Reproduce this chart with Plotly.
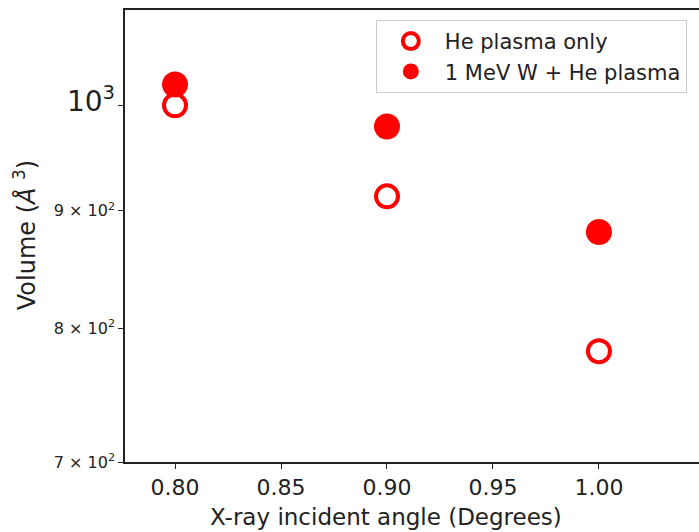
import plotly.graph_objects as go
import math

angles = [0.80, 0.90, 1.00]
he_only = [1000, 913, 782]
w_he = [1021, 979, 881]
series_names = ["He plasma only", "1 MeV W + He plasma"]
x_ticks = [0.80, 0.85, 0.90, 0.95, 1.00]
x_ticklabels = ["0.80", "0.85", "0.90", "0.95", "1.00"]
y_ticks = [700, 800, 900, 1000]
y_ticklabels = ["<span style='font-size:16px'>7 × 10<sup>2</sup></span>",
                "<span style='font-size:16px'>8 × 10<sup>2</sup></span>",
                "<span style='font-size:16px'>9 × 10<sup>2</sup></span>",
                "<span style='font-size:28px'>10<sup>3</sup></span>"]
x_title = "X-ray incident angle (Degrees)"
y_title = "Volume (<i>Å</i> <sup>3</sup>)"

RED = "#ff0000"
fig = go.Figure()
fig.add_trace(go.Scatter(x=angles, y=he_only, mode="markers", name=series_names[0],
                         marker=dict(symbol="circle-open", size=22, color=RED,
                                     line=dict(color=RED, width=4))))
fig.add_trace(go.Scatter(x=angles, y=w_he, mode="markers", name=series_names[1],
                         marker=dict(symbol="circle", size=26, color=RED,
                                     line=dict(width=0))))

font = "DejaVu Sans"
fig.update_layout(
    width=699, height=532,
    margin=dict(l=125, r=0, t=10, b=70),
    paper_bgcolor="white", plot_bgcolor="white",
    font=dict(family=font, color="#222"),
    showlegend=True,
    legend=dict(x=0.437, y=0.978, xanchor="left", yanchor="top",
                bordercolor="#cccccc", borderwidth=1, bgcolor="white",
                font=dict(size=21, family=font, color="#222"),
                itemsizing="trace", itemwidth=58, tracegroupgap=2),
    xaxis=dict(range=[0.7764, 1.0472], tickvals=x_ticks, ticktext=x_ticklabels,
               showgrid=False, zeroline=False, showline=True, linecolor="#222",
               linewidth=1.5, mirror=True, ticks="outside", ticklen=5, tickcolor="#222",
               tickfont=dict(size=22, family=font)),
    yaxis=dict(type="log", range=[math.log10(700), math.log10(1100)],
               tickvals=y_ticks, ticktext=y_ticklabels,
               showgrid=False, zeroline=False, showline=True, linecolor="#222",
               linewidth=1.5, mirror=False, ticks="outside", ticklen=5, tickcolor="#222",
               tickfont=dict(size=16, family=font)),
    annotations=[
        dict(text=x_title, xref="paper", yref="paper", x=0.4547, y=-0.122,
             xanchor="center", yanchor="middle", showarrow=False,
             font=dict(size=23, family=font, color="#222")),
        dict(text=y_title, xref="paper", yref="paper", x=-0.174, y=0.502,
             xanchor="center", yanchor="middle", showarrow=False, textangle=-90,
             font=dict(size=24, family=font, color="#222")),
    ],
)
fig.write_html("out.html")
